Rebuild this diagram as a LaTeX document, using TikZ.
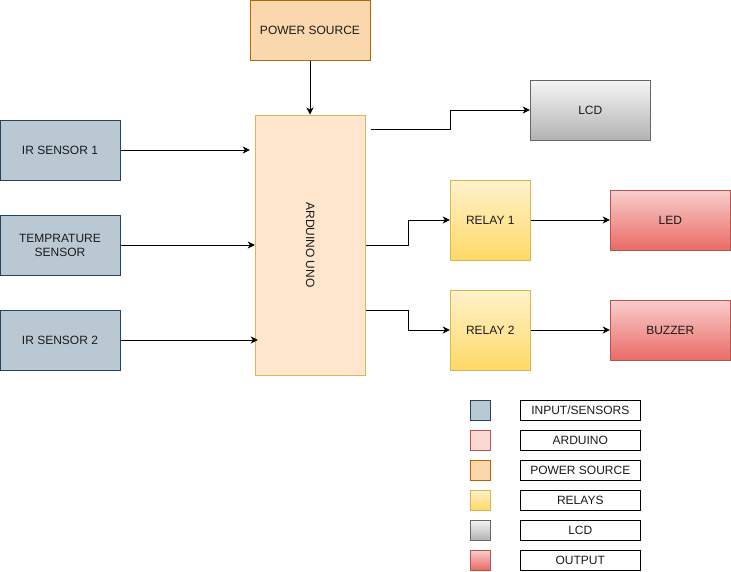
\documentclass[tikz,border=0pt]{standalone}
\usepackage{fontspec}
\setmainfont{Liberation Sans}
\usetikzlibrary{arrows.meta,calc}
\definecolor{senF}{HTML}{BAC8D3}\definecolor{senD}{HTML}{23445D}
\definecolor{ardF}{HTML}{FFE6CC}\definecolor{ardD}{HTML}{D6B656}
\definecolor{ardLF}{HTML}{FAD9D5}\definecolor{ardLD}{HTML}{B85450}
\definecolor{powF}{HTML}{FAD7AC}\definecolor{powD}{HTML}{B46504}
\definecolor{relT}{HTML}{FFF2CC}\definecolor{relB}{HTML}{FFD966}\definecolor{relD}{HTML}{D6B656}
\definecolor{lcdT}{HTML}{F5F5F5}\definecolor{lcdB}{HTML}{B3B3B3}\definecolor{lcdD}{HTML}{666666}
\definecolor{outT}{HTML}{F8CECC}\definecolor{outB}{HTML}{EA6B66}\definecolor{outD}{HTML}{B85450}
\definecolor{txt}{HTML}{1A1A1A}
\begin{document}
\begin{tikzpicture}[x=1pt,y=-1pt,
  every node/.style={font=\fontsize{12}{14}\selectfont,text=txt,align=center,inner sep=0pt,line width=1pt},
  sen/.style={draw=senD,fill=senF,minimum width=120pt,minimum height=60pt},
  ardbox/.style={draw=ardD,fill=ardF,minimum width=110pt,minimum height=260pt},
  pow/.style={draw=powD,fill=powF,minimum width=120pt,minimum height=60pt},
  rel/.style={draw=relD,top color=relT,bottom color=relB,minimum width=80pt,minimum height=80pt},
  lcdbox/.style={draw=lcdD,top color=lcdT,bottom color=lcdB,minimum width=120pt,minimum height=60pt},
  outbox/.style={draw=outD,top color=outT,bottom color=outB,minimum width=120pt,minimum height=60pt},
  sq/.style={minimum width=20pt,minimum height=20pt},
  lab/.style={draw=black,fill=white,minimum width=120pt,minimum height=20pt},
  arr/.style={draw=black,line width=1pt,-{Stealth[length=7pt,width=7pt,inset=2pt]}}]
\useasboundingbox (0,0) rectangle (731,571);
% main blocks
\node[pow] (pow) at (310,30) {POWER SOURCE};
\node[ardbox] (ard) at (310.3,245) {};
\node[rotate=-90] (ardt) at (ard.center) {ARDUINO UNO};
\node[lcdbox] (lcd) at (590.3,110) {LCD};
\node[rel] (r1) at (490.3,220) {RELAY 1};
\node[rel] (r2) at (490.3,330) {RELAY 2};
\node[outbox] (led) at (670.3,220) {LED};
\node[outbox] (buz) at (670.3,330) {BUZZER};
\node[sen] (ir1) at (60,150) {IR SENSOR 1};
\node[sen] (tmp) at (60,245) {TEMPRATURE\\SENSOR};
\node[sen] (ir2) at (60,340) {IR SENSOR 2};
% connectors
\draw[arr] (pow.south) -- (ard.north -| pow.south);
\draw[arr,shorten >=5pt] (ir1.east) -- (ard.west |- ir1.east);
\draw[arr] (tmp.east) -- (ard.west |- tmp.east);
\draw[arr,shorten >=-3pt] (ir2.east) -- (ard.west |- ir2.east);
\coordinate (o1) at ([xshift=5pt,yshift=-15pt]ard.north east);
\draw[arr] (o1) -- ++(80,0) |- (lcd.west);
\draw[arr] (ard.east) -- ++(43,0) |- (r1.west);
\coordinate (o3) at ([yshift=-65pt]ard.east);
\draw[arr] (o3) -- ++(43,0) |- (r2.west);
\draw[arr] (r1.east) -- (led.west);
\draw[arr] (r2.east) -- (buz.west);
% legend
\node[sq,draw=senD,fill=senF] (s1) at (480.3,410) {};
\node[sq,draw=ardLD,fill=ardLF] (s2) at (480.3,440) {};
\node[sq,draw=powD,fill=powF] (s3) at (480.3,470) {};
\node[sq,draw=relD,top color=relT,bottom color=relB] (s4) at (480.3,500) {};
\node[sq,draw=lcdD,top color=lcdT,bottom color=lcdB] (s5) at (480.3,530) {};
\node[sq,draw=outD,top color=outT,bottom color=outB] (s6) at (480.3,560) {};
\node[lab] (l1) at (580.3,410) {INPUT/SENSORS};
\node[lab] (l2) at (580.3,440) {ARDUINO};
\node[lab] (l3) at (580.3,470) {POWER SOURCE};
\node[lab] (l4) at (580.3,500) {RELAYS};
\node[lab] (l5) at (580.3,530) {LCD};
\node[lab] (l6) at (580.3,560) {OUTPUT};
\end{tikzpicture}
\end{document}
